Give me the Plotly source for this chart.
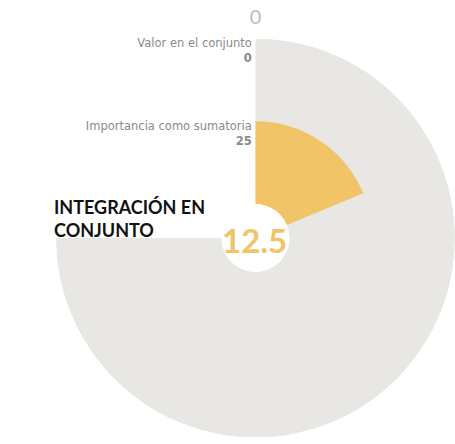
import plotly.graph_objects as go

# Data
categories = ["Importancia como sumatoria", "Valor en el conjunto"]
values = [25, 0]
max_value = 100
total_span = 270  # degrees covered by the full scale
center_value = 12.5
title_text = "INTEGRACIÓN EN<br>CONJUNTO"

GRAY = "#e9e7e4"
YELLOW = "#f0c467"

W, H = 455, 444
scale = total_span / max_value

fig = go.Figure()

# Background track covering both rings
fig.add_trace(go.Barpolar(
    r=[len(categories)], base=[0],
    theta=[total_span / 2], width=[total_span],
    marker=dict(color=GRAY, line=dict(width=0)),
    hoverinfo="skip", showlegend=False,
))

# Value bars (one ring per category)
for i, (cat, v) in enumerate(zip(categories, values)):
    fig.add_trace(go.Barpolar(
        r=[1], base=[i],
        theta=[v * scale / 2], width=[v * scale],
        marker=dict(color=YELLOW, line=dict(width=0)),
        name=cat, showlegend=False,
    ))

# Category labels at the top of each ring
fig.add_trace(go.Scatterpolar(
    r=[i + 1 for i in range(len(categories))],
    theta=[0] * len(categories),
    mode="text",
    text=[f"{c}&nbsp;<br><b>{v:g}</b>&nbsp;" for c, v in zip(categories, values)],
    textposition="bottom left",
    textfont=dict(family="DejaVu Sans", size=11.5, color="#8a8a8a"),
    cliponaxis=False,
    hoverinfo="skip", showlegend=False,
))

fig.update_layout(
    width=W, height=H,
    margin=dict(l=0, r=0, t=0, b=0),
    paper_bgcolor="white",
    plot_bgcolor="white",
    polar=dict(
        domain=dict(x=[56 / W, 1], y=[4 / H, 1 - 40 / H + (4 / H)]),
        bgcolor="white",
        hole=0.17,
        barmode="overlay",
        radialaxis=dict(visible=False, range=[0, len(categories)]),
        angularaxis=dict(
            rotation=90, direction="clockwise",
            tickvals=[0], ticktext=["0"],
            showgrid=False, showline=False,
            ticks="outside", ticklen=6, tickcolor="rgba(0,0,0,0)",
            tickfont=dict(family="Lato", size=20, color="#bcbcbc"),
        ),
    ),
    annotations=[
        dict(
            text=title_text, x=52 / W, y=1 - 194 / H, xref="paper", yref="paper",
            xanchor="left", yanchor="top", align="left", showarrow=False,
            font=dict(family="Lato", size=18, color="#111111", weight="bold"),
        ),
        dict(
            text=f"{center_value:g}", x=254 / W, y=1 - 240 / H, xref="paper", yref="paper",
            xanchor="center", yanchor="middle", showarrow=False,
            font=dict(family="Lato", size=33, color=YELLOW, weight="bold"),
        ),
    ],
)

fig.write_html("out.html")
